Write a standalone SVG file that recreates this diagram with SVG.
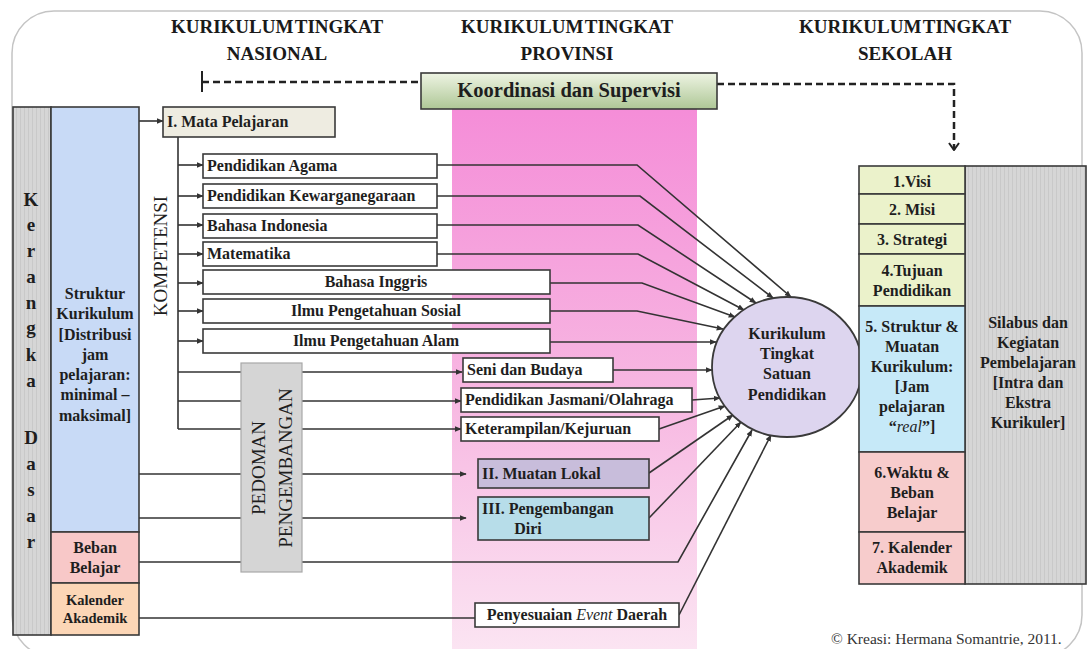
<svg xmlns="http://www.w3.org/2000/svg" width="1088" height="649" viewBox="0 0 1088 649">
  <defs>
    <style>
      .t{font-family:"Liberation Serif","Times New Roman",serif;font-weight:bold;font-size:16px;fill:#1e1e1e}
      .tm{text-anchor:middle}
      .hd{font-family:"Liberation Serif","Times New Roman",serif;font-weight:bold;font-size:19px;fill:#1a1a1a;text-anchor:middle;word-spacing:-3px}
      .rot{font-family:"Liberation Serif","Times New Roman",serif;font-size:19px;fill:#1e1e1e;text-anchor:middle}
      .ln{fill:none;stroke:#333;stroke-width:1.6}
      .la{fill:none;stroke:#333;stroke-width:1.6;marker-end:url(#ah)}
      .bx{stroke:#3a3a3a;stroke-width:1.6}
      .it{font-style:italic;font-weight:normal}
    </style>
    <marker id="ah" viewBox="0 0 10 10" refX="9" refY="5" markerWidth="7" markerHeight="7" markerUnits="userSpaceOnUse" orient="auto">
      <path d="M0,1 L10,5 L0,9 z" fill="#333"/>
    </marker>
    <marker id="ahv" viewBox="0 0 12 10" refX="6" refY="9" markerWidth="12" markerHeight="10" markerUnits="userSpaceOnUse" orient="0">
      <path d="M1,2 L6,9 L11,2" fill="none" stroke="#222" stroke-width="2"/>
    </marker>
    <linearGradient id="pink" x1="0" y1="0" x2="0" y2="1">
      <stop offset="0" stop-color="#f58dd8"/>
      <stop offset="0.55" stop-color="#f7b9e2"/>
      <stop offset="1" stop-color="#fbe4f2"/>
    </linearGradient>
    <linearGradient id="green" x1="0" y1="0" x2="0" y2="1">
      <stop offset="0" stop-color="#eef4e3"/>
      <stop offset="1" stop-color="#aec796"/>
    </linearGradient>
    <pattern id="stripe" width="4" height="10" patternUnits="userSpaceOnUse">
      <rect width="4" height="10" fill="#d6d6d6"/>
      <rect width="1" height="10" fill="#c9c9c9"/>
    </pattern>
  </defs>

  <rect width="1088" height="649" fill="#fff"/>
  <rect x="12" y="11" width="1070" height="646" rx="42" fill="none" stroke="#c4c4c4" stroke-width="1.5"/>

  <!-- province band -->
  <rect x="452" y="108" width="245" height="541" fill="url(#pink)"/>

  <!-- headers -->
  <g id="header-nasional">
    <text class="hd" x="277" y="33">KURIKULUM TINGKAT</text>
    <text class="hd" x="277" y="60">NASIONAL</text>
  </g>
  <g id="header-provinsi">
    <text class="hd" x="567" y="33">KURIKULUM TINGKAT</text>
    <text class="hd" x="567" y="60">PROVINSI</text>
  </g>
  <g id="header-sekolah">
    <text class="hd" x="905" y="33">KURIKULUM TINGKAT</text>
    <text class="hd" x="905" y="60">SEKOLAH</text>
  </g>

  <!-- connectors -->
  <g id="connectors">
    <line x1="202" y1="71" x2="202" y2="92" stroke="#222" stroke-width="2"/>
    <line x1="202" y1="82" x2="421" y2="82" stroke="#222" stroke-width="2.5" stroke-dasharray="7,4"/>
    <polyline points="717,84 954,84 954,150" fill="none" stroke="#222" stroke-width="2.5" stroke-dasharray="7,4" marker-end="url(#ahv)"/>

    <line class="la" x1="139" y1="121" x2="163" y2="121"/>
    <line class="ln" x1="178" y1="137" x2="178" y2="429"/>
    <line class="la" x1="178" y1="165" x2="203" y2="165"/>
    <line class="la" x1="178" y1="196" x2="203" y2="196"/>
    <line class="la" x1="178" y1="225" x2="203" y2="225"/>
    <line class="la" x1="178" y1="254" x2="203" y2="254"/>
    <line class="la" x1="178" y1="283" x2="203" y2="283"/>
    <line class="la" x1="178" y1="311" x2="203" y2="311"/>
    <line class="la" x1="178" y1="341" x2="203" y2="341"/>

    <line class="ln" x1="178" y1="372" x2="241" y2="372"/>
    <line class="ln" x1="178" y1="401" x2="241" y2="401"/>
    <line class="ln" x1="178" y1="429" x2="241" y2="429"/>
    <line class="ln" x1="139" y1="474" x2="241" y2="474"/>
    <line class="ln" x1="139" y1="518" x2="241" y2="518"/>
    <line class="ln" x1="139" y1="562" x2="241" y2="562"/>
    <line class="la" x1="302" y1="372" x2="462" y2="372"/>
    <line class="la" x1="302" y1="401" x2="461" y2="401"/>
    <line class="la" x1="302" y1="429" x2="461" y2="429"/>
    <line class="la" x1="302" y1="474" x2="466" y2="474"/>
    <line class="la" x1="302" y1="518" x2="466" y2="518"/>

    <polyline class="la" points="437,165 637,165 791,297"/>
    <polyline class="la" points="437,196 640,196 773,298"/>
    <polyline class="la" points="437,225 638,225 756,303"/>
    <polyline class="la" points="437,254 638,254 744,310"/>
    <polyline class="la" points="550,283 642,283 735,317"/>
    <polyline class="la" points="550,311 637,311 723,329"/>
    <line class="la" x1="550" y1="342" x2="716" y2="342"/>
    <line class="la" x1="613" y1="370" x2="712" y2="370"/>
    <line class="la" x1="692" y1="400" x2="720" y2="398"/>
    <line class="la" x1="659" y1="429" x2="725" y2="406"/>
    <line class="la" x1="649" y1="473" x2="733" y2="415"/>
    <line class="la" x1="649" y1="518" x2="741" y2="422"/>
    <polyline class="la" points="302,562 678,562 752,430"/>
    <line class="ln" x1="139" y1="618" x2="475" y2="618"/>
    <line class="la" x1="679" y1="615" x2="771" y2="435"/>
  </g>

  <!-- left columns -->
  <g id="kerangka-dasar">
    <rect class="bx" x="13" y="107" width="38" height="528" fill="url(#stripe)"/>
    <g class="t tm" style="font-size:19px">
      <text x="31" y="206">K</text>
      <text x="31" y="231">e</text>
      <text x="31" y="257">r</text>
      <text x="31" y="283">a</text>
      <text x="31" y="309">n</text>
      <text x="31" y="334">g</text>
      <text x="31" y="361">k</text>
      <text x="31" y="387">a</text>
      <text x="31" y="444">D</text>
      <text x="31" y="470">a</text>
      <text x="31" y="496">s</text>
      <text x="31" y="522">a</text>
      <text x="31" y="548">r</text>
    </g>
  </g>
  <g id="struktur-kurikulum">
    <rect class="bx" x="51" y="107" width="88" height="425" fill="#c8daf6"/>
    <g class="t tm" fill="#2a2a2a">
      <text x="95" y="299">Struktur</text>
      <text x="95" y="319">Kurikulum</text>
      <text x="95" y="340">[Distribusi</text>
      <text x="95" y="360">jam</text>
      <text x="95" y="380">pelajaran:</text>
      <text x="95" y="400">minimal –</text>
      <text x="95" y="421">maksimal]</text>
    </g>
  </g>
  <g id="beban-belajar">
    <rect class="bx" x="51" y="532" width="88" height="51" fill="#f8c8c8"/>
    <text class="t tm" x="95" y="553">Beban</text>
    <text class="t tm" x="95" y="573">Belajar</text>
  </g>
  <g id="kalender-akademik">
    <rect class="bx" x="51" y="583" width="88" height="52" fill="#fcd6b6"/>
    <text class="t tm" x="95" y="605" style="font-size:14.5px">Kalender</text>
    <text class="t tm" x="95" y="623" style="font-size:14.5px">Akademik</text>
  </g>

  <g id="koordinasi">
    <rect class="bx" x="421" y="73" width="296" height="36" fill="url(#green)"/>
    <text class="t tm" x="569" y="97" style="font-size:20.5px">Koordinasi dan Supervisi</text>
  </g>

  <g id="mata-pelajaran">
    <rect class="bx" x="163" y="107" width="172" height="30" fill="#eeece1"/>
    <text class="t" x="167" y="127">I. Mata Pelajaran</text>
  </g>

  <g id="kompetensi">
    <text class="rot" transform="translate(167,256) rotate(-90)">KOMPETENSI</text>
  </g>

  <g id="subjects">
    <g id="agama"><rect class="bx" x="203" y="154" width="234" height="24" fill="#fff"/><text class="t" x="207" y="171">Pendidikan Agama</text></g>
    <g id="kewarganegaraan"><rect class="bx" x="203" y="184" width="234" height="24" fill="#fff"/><text class="t" x="207" y="201">Pendidikan Kewarganegaraan</text></g>
    <g id="bahasa-indonesia"><rect class="bx" x="203" y="214" width="234" height="24" fill="#fff"/><text class="t" x="207" y="231">Bahasa Indonesia</text></g>
    <g id="matematika"><rect class="bx" x="203" y="242" width="234" height="24" fill="#fff"/><text class="t" x="207" y="259">Matematika</text></g>
    <g id="bahasa-inggris"><rect class="bx" x="203" y="270" width="347" height="24" fill="#fff"/><text class="t tm" x="376" y="287">Bahasa Inggris</text></g>
    <g id="ips"><rect class="bx" x="203" y="299" width="347" height="24" fill="#fff"/><text class="t tm" x="376" y="316">Ilmu Pengetahuan Sosial</text></g>
    <g id="ipa"><rect class="bx" x="203" y="329" width="347" height="24" fill="#fff"/><text class="t tm" x="376" y="346">Ilmu Pengetahuan Alam</text></g>
    <g id="seni"><rect class="bx" x="463" y="358" width="150" height="24" fill="#fff"/><text class="t" x="467" y="375">Seni dan Budaya</text></g>
    <g id="jasmani"><rect class="bx" x="461" y="388" width="231" height="24" fill="#fff"/><text class="t" x="465" y="405">Pendidikan Jasmani/Olahraga</text></g>
    <g id="keterampilan"><rect class="bx" x="461" y="417" width="198" height="24" fill="#fff"/><text class="t" x="465" y="434">Keterampilan/Kejuruan</text></g>
  </g>

  <g id="pedoman-pengembangan">
    <rect x="241" y="363" width="61" height="209" fill="#d5d5d5" stroke="#a8a8a8" stroke-width="1.2"/>
    <text class="rot" transform="translate(265,468) rotate(-90)">PEDOMAN</text>
    <text class="rot" transform="translate(292,468) rotate(-90)">PENGEMBANGAN</text>
  </g>

  <g id="muatan-lokal">
    <rect class="bx" x="478" y="459" width="171" height="29" fill="#c8bddb"/>
    <text class="t" x="482" y="479">II. Muatan Lokal</text>
  </g>
  <g id="pengembangan-diri">
    <rect class="bx" x="478" y="497" width="171" height="43" fill="#b7dde9"/>
    <text class="t" x="482" y="514">III. Pengembangan</text>
    <text class="t tm" x="528" y="534">Diri</text>
  </g>
  <g id="penyesuaian">
    <rect class="bx" x="475" y="603" width="204" height="24" fill="#fff"/>
    <text class="t tm" x="577" y="620">Penyesuaian <tspan class="it">Event</tspan> Daerah</text>
  </g>

  <g id="ktsp">
    <ellipse cx="787" cy="367" rx="75" ry="70" fill="#ddd5ef" stroke="#3a3a3a" stroke-width="1.8"/>
    <g class="t tm">
      <text x="787" y="339">Kurikulum</text>
      <text x="787" y="359">Tingkat</text>
      <text x="787" y="379">Satuan</text>
      <text x="787" y="400">Pendidikan</text>
    </g>
  </g>

  <!-- right column -->
  <g id="silabus">
    <rect class="bx" x="965" y="166" width="121" height="418" fill="url(#stripe)"/>
    <g class="t tm" fill="#2e2e2e">
      <text x="1028" y="328">Silabus dan</text>
      <text x="1028" y="348">Kegiatan</text>
      <text x="1028" y="368">Pembelajaran</text>
      <text x="1028" y="388">[Intra dan</text>
      <text x="1028" y="408">Ekstra</text>
      <text x="1028" y="428">Kurikuler]</text>
    </g>
  </g>
  <g id="visi"><rect class="bx" x="859" y="166" width="106" height="28" fill="#ebf2cb"/><text class="t tm" x="912" y="187">1.Visi</text></g>
  <g id="misi"><rect class="bx" x="859" y="194" width="106" height="30" fill="#ebf2cb"/><text class="t tm" x="912" y="215">2. Misi</text></g>
  <g id="strategi"><rect class="bx" x="859" y="224" width="106" height="30" fill="#ebf2cb"/><text class="t tm" x="912" y="245">3. Strategi</text></g>
  <g id="tujuan"><rect class="bx" x="859" y="254" width="106" height="52" fill="#ebf2cb"/><text class="t tm" x="912" y="276">4.Tujuan</text><text class="t tm" x="912" y="296">Pendidikan</text></g>
  <g id="struktur-muatan">
    <rect class="bx" x="859" y="306" width="106" height="146" fill="#c6e9f8"/>
    <g class="t tm">
      <text x="912" y="332">5. Struktur &amp;</text>
      <text x="912" y="352">Muatan</text>
      <text x="912" y="372">Kurikulum:</text>
      <text x="912" y="392">[Jam</text>
      <text x="912" y="412">pelajaran</text>
      <text x="912" y="432">“<tspan class="it">real</tspan>”]</text>
    </g>
  </g>
  <g id="waktu"><rect class="bx" x="859" y="452" width="106" height="80" fill="#f7cccc"/><text class="t tm" x="912" y="478">6.Waktu &amp;</text><text class="t tm" x="912" y="498">Beban</text><text class="t tm" x="912" y="518">Belajar</text></g>
  <g id="kalender-sekolah"><rect class="bx" x="859" y="532" width="106" height="52" fill="#f7cccc"/><text class="t tm" x="912" y="553">7. Kalender</text><text class="t tm" x="912" y="573">Akademik</text></g>

  <text x="831" y="644" style="font-family:'Liberation Serif','Times New Roman',serif;font-size:15.5px;fill:#333">© Kreasi: Hermana Somantrie, 2011.</text>
</svg>
